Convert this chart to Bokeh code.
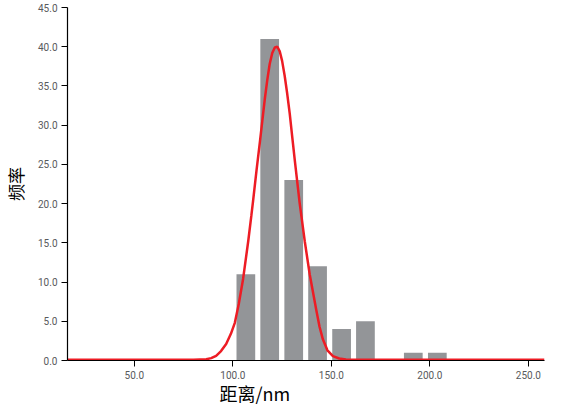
from bokeh.plotting import figure
from bokeh.models import Title, FixedTicker, NumeralTickFormatter
from bokeh.embed import file_html
from bokeh.resources import INLINE

# histogram bins (centres, nm) and counts
bin_centers = [106.6, 118.7, 130.9, 143.0, 155.2, 167.3, 191.6, 203.8]
bin_counts = [11, 41, 23, 12, 4, 5, 1, 1]
bar_width = 9.5

# fitted curve
curve_x = [16.0, 60.0, 80.0, 86.5, 89.0, 91.5, 94.0, 96.6, 99.0, 101.0, 103.0, 105.2, 107.8,
           109.4, 110.3, 112.0, 113.7, 116.2, 117.5, 118.7, 120.0, 121.3, 122.6, 123.8,
           125.0, 126.3, 127.6, 128.9, 130.1, 131.4, 133.9, 136.5, 139.0, 142.3, 144.0,
           145.7, 148.0, 150.8, 154.0, 157.4, 200.0, 258.2]
curve_y = [0.1, 0.1, 0.1, 0.15, 0.3, 0.6, 1.2, 2.1, 3.4, 4.8, 7.2, 10.4, 15.2,
           18.5, 20.4, 24.2, 27.8, 33.3, 35.8, 37.8, 39.2, 39.9, 40.0, 39.4,
           38.2, 36.3, 34.0, 31.4, 28.6, 25.6, 20.1, 15.2, 11.0, 6.5, 4.3,
           2.7, 1.3, 0.55, 0.25, 0.12, 0.1, 0.1]

y_ticks = [0, 5, 10, 15, 20, 25, 30, 35, 40, 45]
x_ticks = [50, 100, 150, 200, 250]

p = figure(width=549, height=404, output_backend="svg", toolbar_location=None,
           x_range=(16.06, 258.2), y_range=(0, 45),
           min_border_left=66, min_border_right=5, min_border_top=7, min_border_bottom=44)
p.outline_line_color = None
p.grid.visible = False
p.background_fill_color = "white"

p.vbar(x=bin_centers, top=bin_counts, width=bar_width, bottom=0,
       fill_color="#939598", line_color=None)
p.line(curve_x, curve_y, line_color="#ED1C24", line_width=2.5)

tick_font = "Roboto"
for ax in (p.xaxis[0], p.yaxis[0]):
    ax.axis_line_color = "black"
    ax.axis_line_width = 1.2
    ax.major_tick_line_color = "black"
    ax.major_tick_in = 0
    ax.major_tick_out = 6
    ax.minor_tick_line_color = None
    ax.major_label_text_font = tick_font
    ax.major_label_text_font_size = "10px"
    ax.major_label_text_color = "#58595b"
    ax.formatter = NumeralTickFormatter(format="0.0")

p.yaxis[0].ticker = FixedTicker(ticks=y_ticks)
p.xaxis[0].ticker = FixedTicker(ticks=x_ticks)
p.yaxis[0].major_label_standoff = 4
p.xaxis[0].major_label_standoff = 4

p.yaxis[0].axis_label = "频率"
p.yaxis[0].axis_label_text_font = "Noto Sans CJK SC"
p.yaxis[0].axis_label_text_font_size = "17px"
p.yaxis[0].axis_label_text_font_style = "normal"
p.yaxis[0].axis_label_text_color = "black"
p.yaxis[0].axis_label_standoff = 7

xlab = Title(text="距离/nm", align="left", offset=152, standoff=-8,
             text_font="Noto Sans CJK SC", text_font_size="18px", text_line_height=1.0,
             text_font_style="normal", text_color="black")
p.add_layout(xlab, "below")

open("out.html", "w").write(file_html(p, INLINE))
